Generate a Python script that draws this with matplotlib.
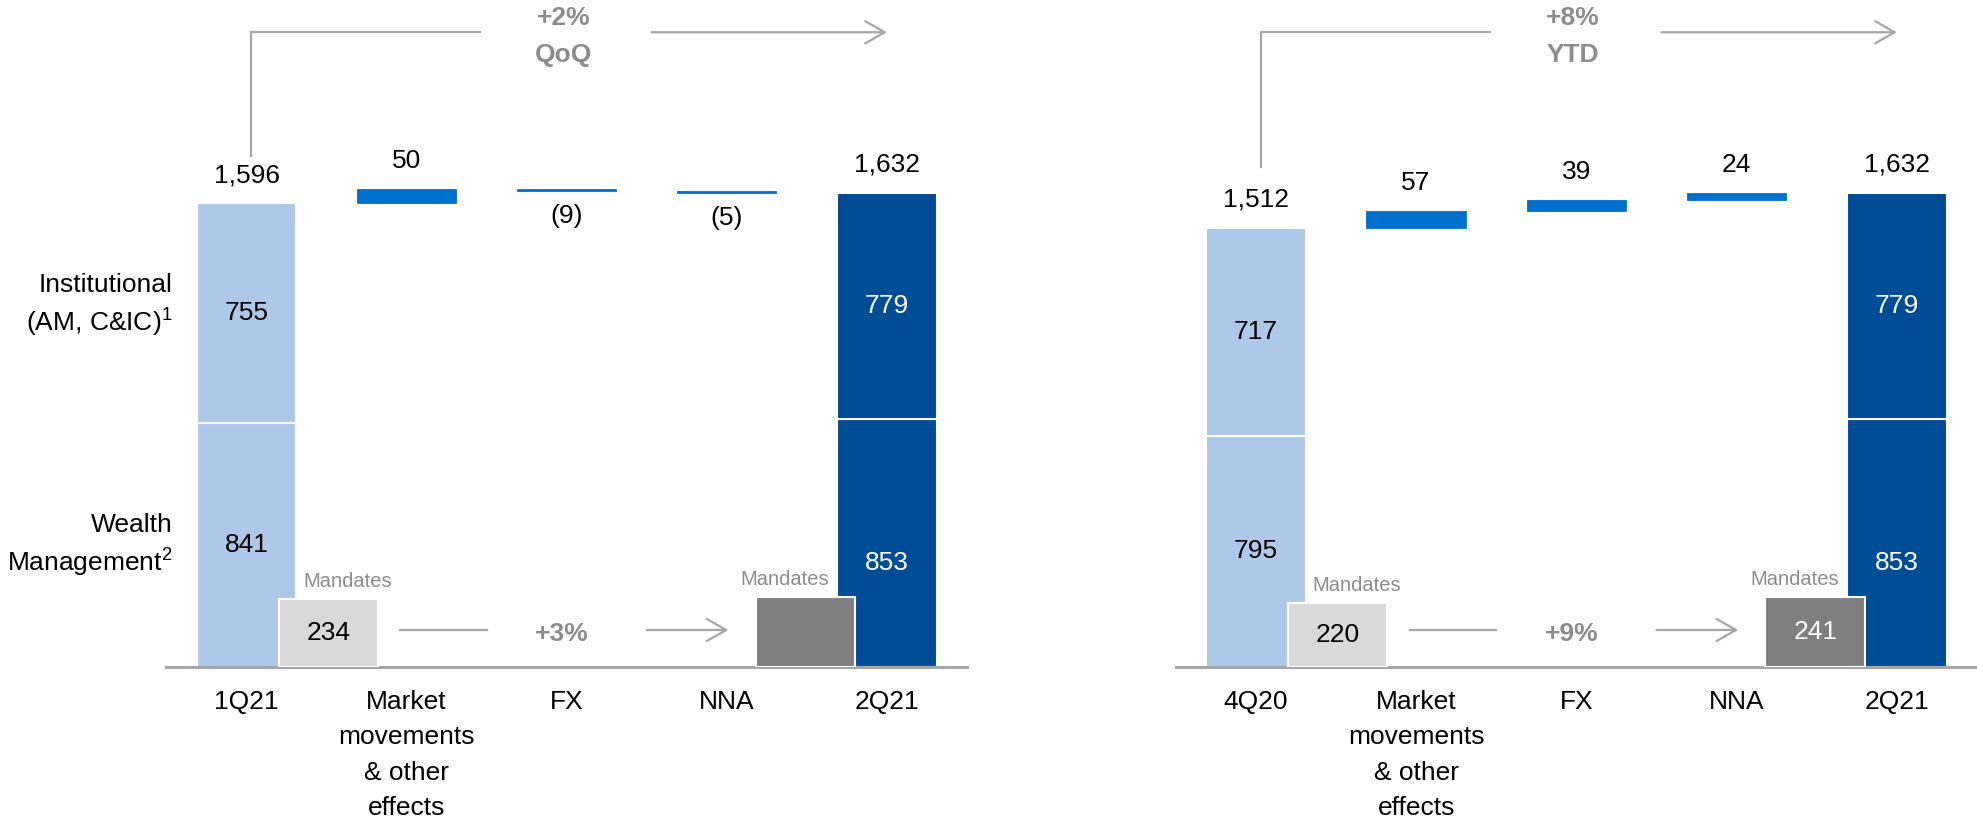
import matplotlib
matplotlib.use('Agg')
import matplotlib.pyplot as plt

plt.rcParams['font.family'] = ['Liberation Sans', 'DejaVu Sans']
plt.rcParams['mathtext.fontset'] = 'custom'
plt.rcParams['mathtext.rm'] = 'Liberation Sans'
plt.rcParams['mathtext.default'] = 'rm'

# ---- data ----
start_labels = ['1Q21', '4Q20']
end_label = '2Q21'
step_labels = ['Market\nmovements\n& other\neffects', 'FX', 'NNA']

start_wm = [841, 795]
start_inst = [755, 717]
end_wm = [853, 853]
end_inst = [779, 779]
deltas = [[50, -9, -5], [57, 39, 24]]

mandates_start = [234, 220]
mandates_end = [241, 241]
show_mandates_end = [False, True]

growth_total = ['+2%', '+8%']
growth_period = ['QoQ', 'YTD']
growth_mandates = ['+3%', '+9%']

seg_names = ['Institutional\n(AM, C&IC)$^1$', 'Wealth\nManagement$^2$']

# ---- style ----
LIGHT = '#aec8e9'
MID = '#0070cd'
DARK = '#004c97'
MAND_L = '#d9d9d9'
MAND_D = '#7f7f7f'
GREY = '#a6a6a6'
TXT_GREY = '#8c8c8c'
FS = 19
W = 0.62

fig = plt.figure(figsize=(19.77, 8.22), dpi=100)
axes = [fig.add_axes([0.0842, 0.1887, 0.4049, 0.8113]),
        fig.add_axes([0.5947, 0.1887, 0.4053, 0.8113])]

bracket_start = [1757, 1722]


def lab(ax, x, y, s, dy, **kw):
    kw.setdefault('ha', 'center')
    kw.setdefault('va', 'center')
    kw.setdefault('fontsize', FS)
    ax.annotate(s, (x, y), xytext=(0, dy), textcoords='offset pixels',
                annotation_clip=False, **kw)


for p, ax in enumerate(axes):
    ax.set_xlim(-0.5, 4.5)
    ax.set_ylim(0, 2295)
    for s in ['top', 'left', 'right']:
        ax.spines[s].set_visible(False)
    ax.spines['bottom'].set_color(GREY)
    ax.spines['bottom'].set_linewidth(2.2)
    ax.set_xticks([])
    ax.set_yticks([])

    # start bar
    tot0 = start_wm[p] + start_inst[p]
    ax.bar(0, start_wm[p], width=W, color=LIGHT, edgecolor='white', lw=1.5)
    ax.bar(0, start_inst[p], bottom=start_wm[p], width=W, color=LIGHT,
           edgecolor='white', lw=1.5)
    ax.text(0, start_wm[p] / 2, str(start_wm[p]), ha='center', va='center', fontsize=FS)
    ax.text(0, start_wm[p] + start_inst[p] / 2, str(start_inst[p]),
            ha='center', va='center', fontsize=FS)
    lab(ax, 0, tot0, f'{tot0:,}', 28)

    # steps
    run = tot0
    for i, d in enumerate(deltas[p]):
        x = i + 1
        bot = run if d > 0 else run + d
        ax.bar(x, abs(d), bottom=bot, width=W, color=MID, edgecolor=MID, lw=0.6)
        if d > 0:
            lab(ax, x, run + d, str(d), 28)
        else:
            lab(ax, x, run + d, f'({-d})', -25)
        run += d

    # end bar
    tot1 = end_wm[p] + end_inst[p]
    ax.bar(4, end_wm[p], width=W, color=DARK, edgecolor='white', lw=1.5)
    ax.bar(4, end_inst[p], bottom=end_wm[p], width=W, color=DARK,
           edgecolor='white', lw=1.5)
    ax.text(4, end_wm[p] * 0.42, str(end_wm[p]), ha='center', va='center',
            fontsize=FS, color='white')
    ax.text(4, end_wm[p] + end_inst[p] / 2, str(end_inst[p]),
            ha='center', va='center', fontsize=FS, color='white')
    lab(ax, 4, tot1, f'{tot1:,}', 28)

    # mandates
    ax.bar(0.51, mandates_start[p], width=W, color=MAND_L, edgecolor='white',
           lw=1.5, zorder=3)
    ax.text(0.51, mandates_start[p] / 2, str(mandates_start[p]), ha='center',
            va='center', fontsize=FS, zorder=4)
    lab(ax, 0.63, mandates_start[p], 'Mandates', 8, va='bottom',
        fontsize=14.5, color=TXT_GREY)
    ax.bar(3.49, mandates_end[p], width=W, color=MAND_D, edgecolor='white',
           lw=1.5, zorder=3)
    if show_mandates_end[p]:
        ax.text(3.49, mandates_end[p] / 2, str(mandates_end[p]), ha='center',
                va='center', fontsize=FS, color='white', zorder=4)
    lab(ax, 3.36, mandates_end[p], 'Mandates', 8, va='bottom',
        fontsize=14.5, color=TXT_GREY)

    # mandates growth arrow
    ax.plot([0.96, 1.50], [127, 127], color=GREY, lw=1.6, clip_on=False)
    ax.annotate('', xy=(3.01, 127), xytext=(2.50, 127),
                arrowprops=dict(arrowstyle='->,head_length=0.7,head_width=0.4',
                                color=GREY, lw=1.6, shrinkA=0, shrinkB=0,
                                mutation_scale=20),
                annotation_clip=False)
    ax.text(1.97, 112, growth_mandates[p], ha='center', va='center',
            fontsize=FS, fontweight='bold', color=TXT_GREY)

    # total growth bracket
    hy = 2184
    ax.plot([0.03, 0.03, 1.46], [bracket_start[p], hy, hy], color=GREY,
            lw=1.6, clip_on=False)
    ax.annotate('', xy=(4.0, hy), xytext=(2.53, hy),
                arrowprops=dict(arrowstyle='->,head_length=0.7,head_width=0.4',
                                color=GREY, lw=1.6, shrinkA=0, shrinkB=0,
                                mutation_scale=20),
                annotation_clip=False)
    ax.text(1.98, 2232, growth_total[p], ha='center', va='center',
            fontsize=FS, fontweight='bold', color=TXT_GREY, clip_on=False)
    ax.text(1.98, 2106, growth_period[p], ha='center', va='center',
            fontsize=FS, fontweight='bold', color=TXT_GREY, clip_on=False)

    # category labels
    cats = [start_labels[p]] + step_labels + [end_label]
    for i, c in enumerate(cats):
        lab(ax, i, 0, c, -23, va='top', linespacing=1.6)

# segment names on the left
ax = axes[0]
ax.text(-0.46, 1241, seg_names[0], ha='right', va='center', fontsize=FS,
        linespacing=1.4, clip_on=False)
ax.text(-0.46, 416, seg_names[1], ha='right', va='center', fontsize=FS,
        linespacing=1.4, clip_on=False)

fig.savefig('out.png', dpi=100)
